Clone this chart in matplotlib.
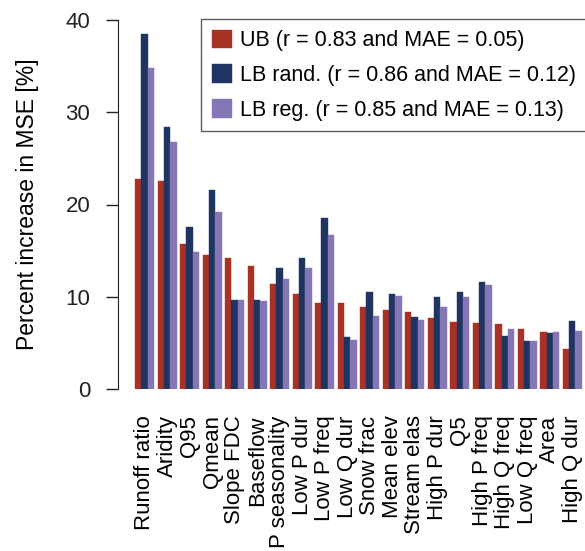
import matplotlib.pyplot as plt
import numpy as np

plt.rcParams['font.family'] = ['Liberation Sans', 'DejaVu Sans']

# Data
variables = ['Runoff ratio', 'Aridity', 'Q95', 'Qmean', 'Slope FDC', 'Baseflow',
             'P seasonality', 'Low P dur', 'Low P freq', 'Low Q dur', 'Snow frac',
             'Mean elev', 'Stream elas', 'High P dur', 'Q5', 'High P freq',
             'High Q freq', 'Low Q freq', 'Area', 'High Q dur']
ub = [22.8, 22.5, 15.7, 14.5, 14.2, 13.3, 11.4, 10.3, 9.3, 9.3,
      8.9, 8.55, 8.4, 7.75, 7.3, 7.2, 7.1, 6.45, 6.15, 4.3]
lb_rand = [38.5, 28.4, 17.6, 21.6, 9.65, 9.6, 13.1, 14.2, 18.5, 5.6,
           10.5, 10.25, 7.8, 9.95, 10.55, 11.55, 5.7, 5.15, 6.05, 7.35]
lb_reg = [34.8, 26.8, 14.9, 19.2, 9.6, 9.5, 11.9, 13.1, 16.7, 5.35,
          7.95, 10.05, 7.5, 8.85, 9.95, 11.25, 6.5, 5.25, 6.15, 6.25]
labels = ['UB (r = 0.83 and MAE = 0.05)',
          'LB rand. (r = 0.86 and MAE = 0.12)',
          'LB reg. (r = 0.85 and MAE = 0.13)']
colors = ['#A93226', '#1F3461', '#8576B6']

fig = plt.figure(figsize=(5.85, 5.51), dpi=100)
W, H = 585, 551
ax = fig.add_axes([118 / W, (H - 389) / H, (585 - 118) / W, (389 - 20) / H])

period = 3.5
x0 = np.arange(len(variables)) * period
for k, (vals, c, lab) in enumerate(zip([ub, lb_rand, lb_reg], colors, labels)):
    ax.bar(x0 + 0.5 + k, vals, width=1.0, color=c, label=lab,
           edgecolor=c, linewidth=0.3)

ax.set_xlim(-17 / 6.43, (585 - 135) / 6.43)
ax.set_ylim(0, 40)
ax.set_yticks([0, 10, 20, 30, 40])
ax.set_xticks(x0 + 1.5)
ax.set_xticklabels(variables, rotation=90, fontsize=16)
ax.tick_params(axis='x', length=0, pad=19)
ax.tick_params(axis='y', length=9, width=1, pad=11, labelsize=16, colors='#222222')

for s in ['top', 'right', 'bottom']:
    ax.spines[s].set_visible(False)
ax.spines['left'].set_bounds(0, 40)
ax.spines['left'].set_color('#222222')

ax.set_ylabel('Percent increase in MSE [%]', fontsize=16.5, labelpad=19)

leg = ax.legend(loc='upper left', bbox_to_anchor=(201 / W, 1 - 19 / H),
                bbox_transform=fig.transFigure, fontsize=15.5, frameon=True,
                fancybox=False, handlelength=0.95, handleheight=0.95,
                handletextpad=0.35, labelspacing=0.6, borderpad=0.5,
                borderaxespad=0)
leg.get_frame().set_edgecolor('#333333')
leg.get_frame().set_linewidth(1.0)

fig.savefig('out.png', dpi=100)
